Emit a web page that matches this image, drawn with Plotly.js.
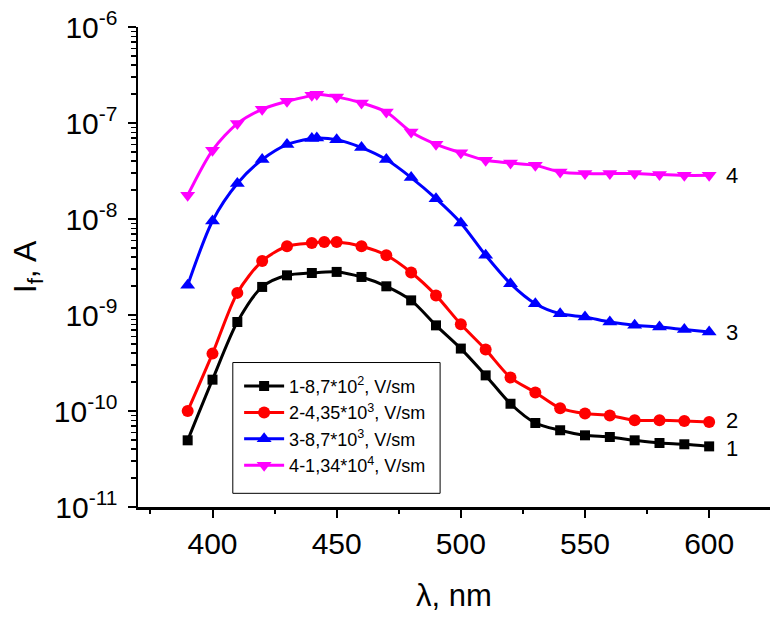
<!DOCTYPE html>
<html>
<head>
<meta charset="utf-8">
<script src="https://cdn.plot.ly/plotly-3.0.1.min.js"></script>
<style>html,body{margin:0;padding:0;background:#fff;}#chart{width:770px;height:617px;}</style>
</head>
<body>
<div id="chart"></div>
<script>
// Wavelength (nm) for each series
const wl1 = [390,400,410,420,430,440,450,460,470,480,490,500,510,520,530,540,550,560,570,580,590,600];
const wl2 = [390,400,410,420,430,440,445,450,460,470,480,490,500,510,520,530,540,550,560,570,580,590,600];
const wl3 = [390,400,410,420,430,440,442,450,460,470,480,490,500,510,520,530,540,550,560,570,580,590,600];
const wl4 = [390,400,410,420,430,440,442,450,460,470,480,490,500,510,520,530,540,550,560,570,580,590,600];

// Photocurrent I_f (A)
const cur1 = [4.95e-11,2.12e-10,8.45e-10,1.96e-9,2.59e-9,2.74e-9,2.81e-9,2.49e-9,1.99e-9,1.42e-9,7.8e-10,4.47e-10,2.35e-10,1.19e-10,7.5e-11,6.3e-11,5.58e-11,5.36e-11,4.95e-11,4.64e-11,4.5e-11,4.28e-11];
const cur2 = [1.0e-10,3.96e-10,1.70e-9,3.65e-9,5.2e-9,5.62e-9,5.75e-9,5.75e-9,5.2e-9,4.19e-9,2.77e-9,1.60e-9,8.0e-10,4.36e-10,2.23e-10,1.56e-10,1.07e-10,9.4e-11,9.0e-11,8.0e-11,8.0e-11,7.87e-11,7.68e-11];
const cur3 = [2.04e-9,9.53e-9,2.34e-8,4.16e-8,5.96e-8,6.88e-8,6.98e-8,6.71e-8,5.54e-8,4.16e-8,2.7e-8,1.63e-8,9.1e-9,4.19e-9,2.12e-9,1.31e-9,1.03e-9,9.53e-10,8.45e-10,7.81e-10,7.5e-10,7.05e-10,6.65e-10];
const cur4 = [1.77e-8,5.2e-8,9.86e-8,1.39e-7,1.68e-7,1.94e-7,1.99e-7,1.87e-7,1.62e-7,1.30e-7,8.05e-8,6.0e-8,4.9e-8,4.09e-8,3.83e-8,3.62e-8,3.09e-8,2.97e-8,2.97e-8,2.97e-8,2.9e-8,2.85e-8,2.85e-8];

const names = ['1-8,7*10<sup>2</sup>, V/sm','2-4,35*10<sup>3</sup>, V/sm','3-8,7*10<sup>3</sup>, V/sm','4-1,34*10<sup>4</sup>, V/sm'];
const endLabels = ['1','2','3','4'];
const yTickVals = [1e-11,1e-10,1e-9,1e-8,1e-7,1e-6];
const yTickText = ['10<sup>-11</sup>','10<sup>-10</sup>','10<sup>-9</sup>','10<sup>-8</sup>','10<sup>-7</sup>','10<sup>-6</sup>'];

const colors = ['#000000','#ff0000','#0000ff','#ff00ff'];
const symbols = ['square','circle','triangle-up','triangle-down'];
const msizes = [10,12,13,13];
const labelShift = [-2,2,0,0];
const xs = [wl1,wl2,wl3,wl4];
const ys = [cur1,cur2,cur3,cur4];

const FONT = '"Liberation Sans", Arial, sans-serif';

const traces = xs.map((x,i)=>({
  x: x, y: ys[i], name: names[i], type:'scatter', mode:'lines+markers',
  line:{color:colors[i], width:3, shape:'spline', smoothing:0.8},
  marker:{symbol:symbols[i], size:msizes[i], color:colors[i]}
}));

const annotations = ys.map((y,i)=>({
  x: xs[i][xs[i].length-1], y: Math.log10(y[y.length-1]), xref:'x', yref:'y',
  text: endLabels[i], showarrow:false, xanchor:'center', yanchor:'middle', xshift:23, yshift:labelShift[i],
  font:{family:FONT, size:22, color:'#000'}
}));

const layout = {
  width:770, height:617,
  margin:{l:138, r:0, t:27, b:110},
  paper_bgcolor:'#fff', plot_bgcolor:'#fff',
  font:{family:FONT, color:'#000'},
  showlegend:true,
  legend:{x:0.16, y:0.29, xanchor:'left', yanchor:'top', bgcolor:'rgba(0,0,0,0)', borderwidth:0,
          font:{family:FONT, size:18, color:'#000'}, itemwidth:40, tracegroupgap:0},
  xaxis:{range:[370,624.5], showgrid:false, zeroline:false, showline:true, linecolor:'#000', linewidth:2.5,
         ticks:'outside', ticklen:8, tickwidth:2, tickcolor:'#000', dtick:50, tick0:400,
         minor:{ticks:'outside', ticklen:4, tickwidth:2, tickcolor:'#000', dtick:25, showgrid:false},
         tickfont:{family:FONT, size:30, color:'#000'},
         title:{text:'λ, nm', font:{family:FONT, size:31, color:'#000'}, standoff:26}},
  yaxis:{type:'log', range:[-11,-6], showgrid:false, zeroline:false, showline:true, linecolor:'#000', linewidth:2.5,
         ticks:'outside', ticklen:8, tickwidth:2, tickcolor:'#000',
         tickvals:yTickVals, ticktext:yTickText, ticklabelstandoff:4,
         minor:{ticks:'outside', ticklen:5, tickwidth:1.5, tickcolor:'#000', dtick:'D1', showgrid:false},
         tickfont:{family:FONT, size:30, color:'#000'},
         title:{text:'I<sub>f</sub>, A', font:{family:FONT, size:32, color:'#000'}, standoff:8}},
  shapes:[{type:'rect', xref:'paper', yref:'paper', x0:0.150, x1:0.478, y0:0.0285, y1:0.301,
           line:{color:'#000', width:1}, fillcolor:'rgba(0,0,0,0)'}],
  annotations: annotations
};

Plotly.newPlot('chart', traces, layout, {displayModeBar:false, staticPlot:true});
</script>
</body>
</html>
